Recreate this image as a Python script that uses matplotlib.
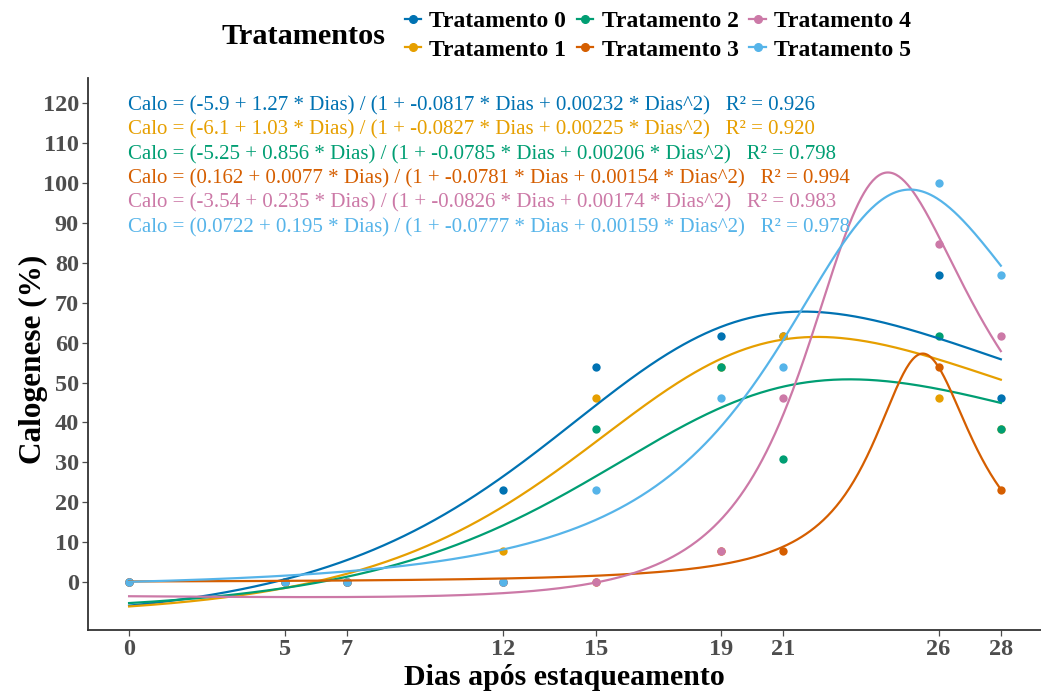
import numpy as np
import matplotlib
matplotlib.use("Agg")
import matplotlib.pyplot as plt
from matplotlib.lines import Line2D

plt.rcParams['font.family'] = ['Liberation Serif', 'DejaVu Serif']

# ---- data ----
days = [0, 5, 7, 12, 15, 19, 21, 26, 28]
treatments = ["Tratamento 0", "Tratamento 1", "Tratamento 2",
              "Tratamento 3", "Tratamento 4", "Tratamento 5"]
calo_t0 = [0, 0, 0, 23.08, 53.85, 61.54, 61.54, 76.92, 46.15]
calo_t1 = [0, 0, 0, 7.69, 46.15, 53.85, 61.54, 46.15, 38.46]
calo_t2 = [0, 0, 0, 0, 38.46, 53.85, 30.77, 61.54, 38.46]
calo_t3 = [0, 0, 0, 0, 0, 7.69, 7.69, 53.85, 23.08]
calo_t4 = [0, 0, 0, 0, 0, 7.69, 46.15, 84.62, 61.54]
calo_t5 = [0, 0, 0, 0, 23.08, 46.15, 53.85, 100.0, 76.92]
calo = [calo_t0, calo_t1, calo_t2, calo_t3, calo_t4, calo_t5]

# rational model (a + b*x) / (1 + c*x + d*x^2)
coef_a = [-5.9, -6.1, -5.25, 0.162, -3.54, 0.0722]
coef_b = [1.27, 1.03, 0.856, 0.0077, 0.235, 0.195]
coef_c = [-0.0817, -0.0827, -0.0785, -0.0781, -0.0826, -0.0777]
coef_d = [0.00232, 0.00225, 0.00206, 0.0015345, 0.0017415, 0.0015885]
r2 = ["0.926", "0.920", "0.798", "0.994", "0.983", "0.978"]
eq_labels = [
    "Calo = (-5.9 + 1.27 * Dias) / (1 + -0.0817 * Dias + 0.00232 * Dias^2)",
    "Calo = (-6.1 + 1.03 * Dias) / (1 + -0.0827 * Dias + 0.00225 * Dias^2)",
    "Calo = (-5.25 + 0.856 * Dias) / (1 + -0.0785 * Dias + 0.00206 * Dias^2)",
    "Calo = (0.162 + 0.0077 * Dias) / (1 + -0.0781 * Dias + 0.00154 * Dias^2)",
    "Calo = (-3.54 + 0.235 * Dias) / (1 + -0.0826 * Dias + 0.00174 * Dias^2)",
    "Calo = (0.0722 + 0.195 * Dias) / (1 + -0.0777 * Dias + 0.00159 * Dias^2)",
]
colors = ["#0072B2", "#E69F00", "#009E73", "#D55E00", "#CC79A7", "#56B4E9"]
yticks = [0, 10, 20, 30, 40, 50, 60, 70, 80, 90, 100, 110, 120]

# ---- figure ----
fig = plt.figure(figsize=(10.41, 6.91), dpi=100)
W, H = 1041, 691
ax = fig.add_axes([88 / W, (H - 630) / H, (W - 88) / W, (630 - 78) / H])

xs = np.linspace(0, 28, 600)
for i in range(6):
    ax.scatter(days, calo[i], s=36, color=colors[i], zorder=3, linewidths=0)
for i in range(6):
    ys = (coef_a[i] + coef_b[i] * xs) / (1 + coef_c[i] * xs + coef_d[i] * xs ** 2)
    ax.plot(xs, ys, color=colors[i], lw=1.6, zorder=4)

ax.set_xlim(-1.32, 29.29)
ax.set_ylim(-12.0, 126.3)
ax.set_xticks(days)
ax.set_yticks(yticks)
for s in ["top", "right"]:
    ax.spines[s].set_visible(False)
for s in ["left", "bottom"]:
    ax.spines[s].set_color("#333333")
    ax.spines[s].set_linewidth(1.3)
ax.tick_params(axis="both", colors="#4D4D4D", length=4, width=0.9,
               labelsize=17.5, pad=2.5)
for lab in ax.get_xticklabels() + ax.get_yticklabels():
    lab.set_fontweight("bold")
    lab.set_color("#4D4D4D")
ax.set_xlabel("Dias após estaqueamento", fontsize=21.5, fontweight="bold",
              labelpad=3)
ax.set_ylabel("Calogenese (%)", fontsize=22.5, fontweight="bold",
              va="center")
ax.yaxis.set_label_coords((33 - 88) / 953, 0.49)

y0 = 119.3
dy = 6.1
for i in range(6):
    ax.text(-0.04, y0 - i * dy, eq_labels[i] + "   R² = " + r2[i],
            color=colors[i], fontsize=15, va="center", ha="left", zorder=5)

# legend
fig.text(222 / W, 1 - 36 / H, "Tratamentos", fontsize=21.8, fontweight="bold",
         va="center", ha="left")
handles = [Line2D([0], [0], color=colors[i], marker="o", markersize=5.5,
                  lw=1.6) for i in range(6)]
fig.legend(handles, treatments, ncol=3, loc="upper left",
           bbox_to_anchor=(388 / W, 1 + 6 / H), frameon=False,
           prop={"size": 17, "weight": "bold"}, handlelength=0.7,
           handletextpad=0.35, columnspacing=0.45, labelspacing=0.3,
           borderpad=0.2)

fig.savefig("out.png", dpi=100)
